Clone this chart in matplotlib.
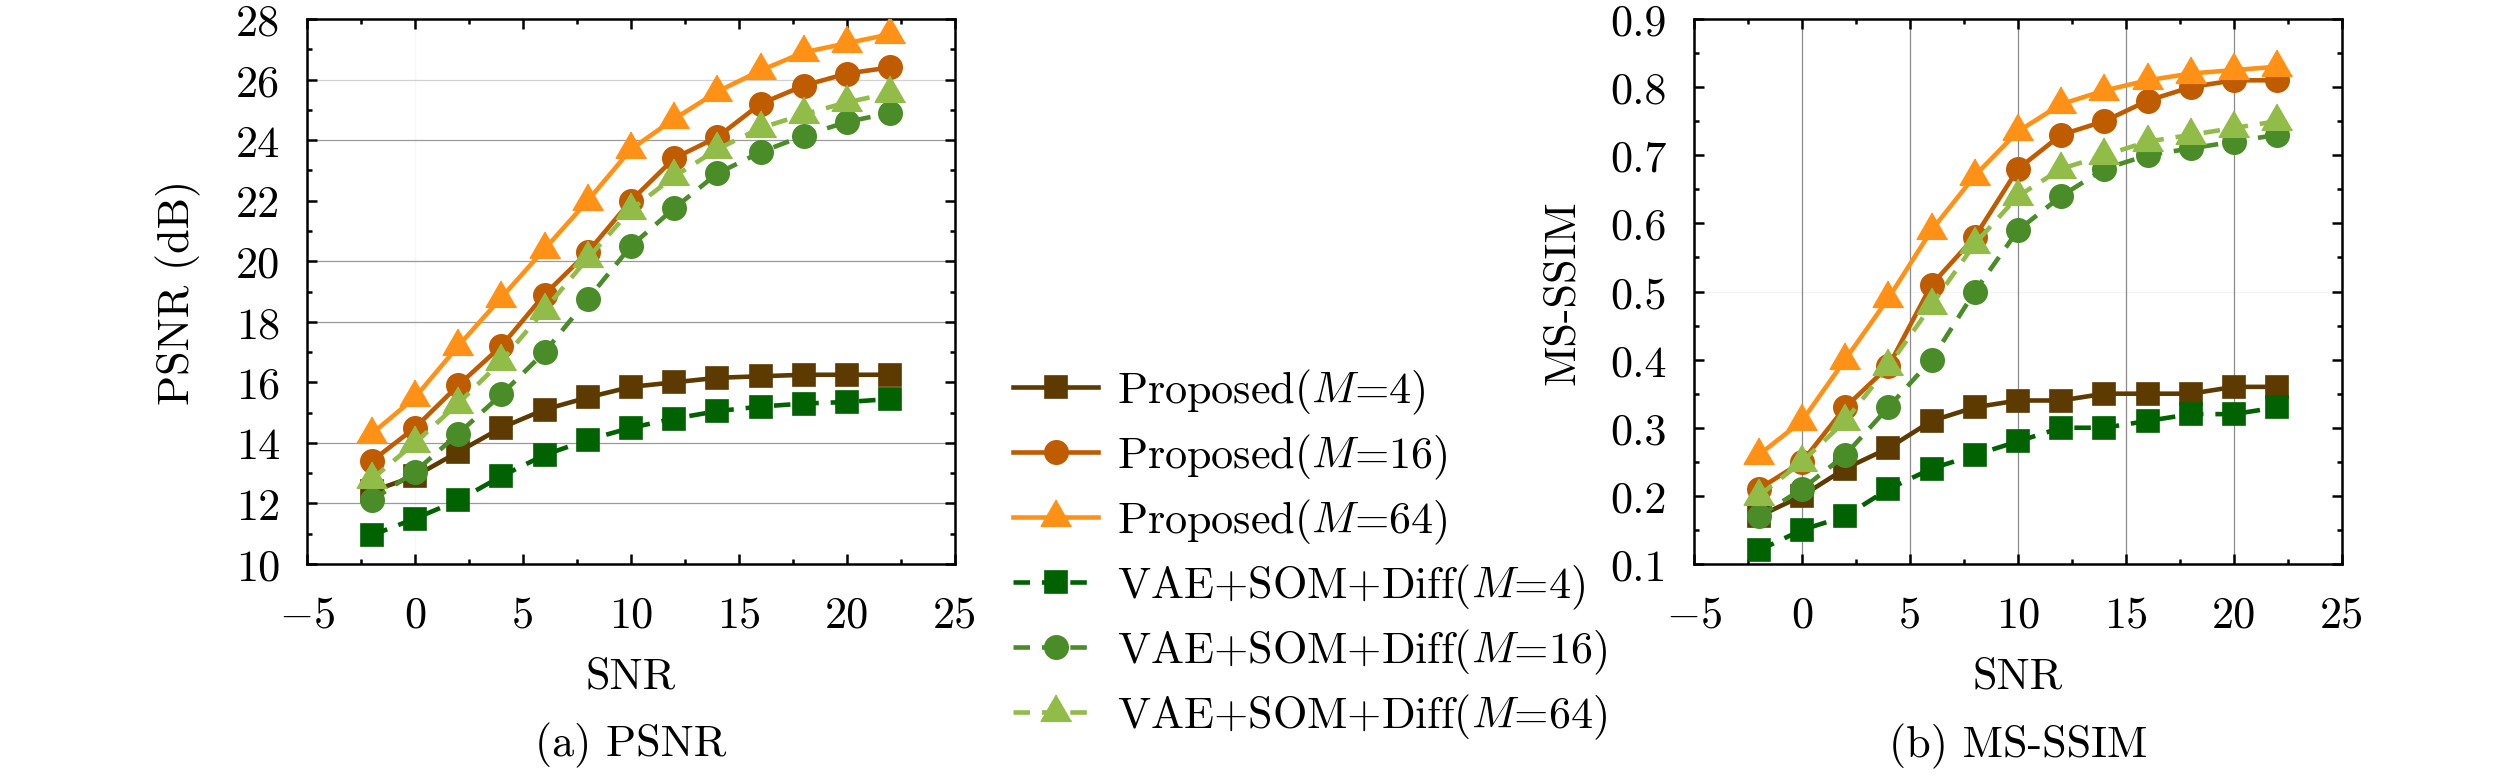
import matplotlib
matplotlib.use("Agg")
import matplotlib.pyplot as plt
from matplotlib.ticker import MultipleLocator, FuncFormatter

# ---------------- data ----------------
snr = [-2, 0, 2, 4, 6, 8, 10, 12, 14, 16, 18, 20, 22]

psnr_prop_m4 = [12.4, 12.9, 13.7, 14.5, 15.1, 15.5, 15.85, 16.0, 16.15, 16.2, 16.25, 16.25, 16.25]
psnr_prop_m16 = [13.4, 14.5, 15.9, 17.2, 18.9, 20.3, 22.0, 23.4, 24.1, 25.2, 25.8, 26.2, 26.4]
psnr_prop_m64 = [14.3, 15.5, 17.2, 18.8, 20.4, 22.0, 23.7, 24.7, 25.6, 26.3, 26.9, 27.2, 27.5]
psnr_vae_m4 = [10.95, 11.5, 12.1, 12.9, 13.6, 14.1, 14.5, 14.8, 15.05, 15.2, 15.3, 15.35, 15.45]
psnr_vae_m16 = [12.1, 13.05, 14.3, 15.6, 17.0, 18.75, 20.5, 21.75, 22.9, 23.6, 24.15, 24.6, 24.9]
psnr_vae_m64 = [12.8, 14.0, 15.3, 16.7, 18.4, 20.1, 21.7, 22.8, 23.7, 24.4, 24.85, 25.25, 25.55]

ssim_prop_m4 = [0.17, 0.20, 0.24, 0.27, 0.31, 0.33, 0.34, 0.34, 0.35, 0.35, 0.35, 0.36, 0.36]
ssim_prop_m16 = [0.21, 0.25, 0.33, 0.39, 0.51, 0.58, 0.68, 0.73, 0.75, 0.78, 0.80, 0.81, 0.81]
ssim_prop_m64 = [0.26, 0.31, 0.40, 0.49, 0.59, 0.67, 0.735, 0.775, 0.795, 0.81, 0.82, 0.825, 0.83]
ssim_vae_m4 = [0.12, 0.15, 0.17, 0.21, 0.24, 0.26, 0.28, 0.30, 0.30, 0.31, 0.32, 0.32, 0.33]
ssim_vae_m16 = [0.17, 0.21, 0.26, 0.33, 0.40, 0.50, 0.59, 0.64, 0.68, 0.70, 0.71, 0.72, 0.73]
ssim_vae_m64 = [0.20, 0.25, 0.31, 0.39, 0.48, 0.57, 0.64, 0.68, 0.70, 0.72, 0.73, 0.74, 0.75]

labels = [
    r"Proposed($M$=4)",
    r"Proposed($M$=16)",
    r"Proposed($M$=64)",
    r"VAE+SOM+Diff($M$=4)",
    r"VAE+SOM+Diff($M$=16)",
    r"VAE+SOM+Diff($M$=64)",
]

x_ticks = [-5, 0, 5, 10, 15, 20, 25]
psnr_ticks = [10, 12, 14, 16, 18, 20, 22, 24, 26, 28]
ssim_ticks = [0.1, 0.2, 0.3, 0.4, 0.5, 0.6, 0.7, 0.8, 0.9]

# ---------------- style ----------------
FS = 10.6
plt.rcParams.update({
    "font.family": "serif",
    "font.serif": ["cmr10"],
    "mathtext.fontset": "cm",
    "axes.unicode_minus": False,
    "font.size": FS,
    "axes.linewidth": 0.6,
})

colors = ["#5C3A00", "#BF5C00", "#FF9216", "#006200", "#4A8C28", "#91BC48"]
tri = [(0, 1), (-0.866, -0.5), (0.866, -0.5)]
markers = ["s", "o", tri, "s", "o", tri]
msizes = [5.2, 5.6, 8.4, 5.2, 5.6, 8.4]
styles = ["-", "-", "-", "--", "--", "--"]

W, H = 2520, 776
DPI = 300
fig = plt.figure(figsize=(W / DPI, H / DPI), dpi=DPI)

ax_l = (307, 20, 955, 565)
ax_r = (1694, 20, 2342, 565)


def make_ax(box):
    x0, y0, x1, y1 = box
    return fig.add_axes([x0 / W, 1 - y1 / H, (x1 - x0) / W, (y1 - y0) / H])


def fmt(v, pos):
    s = f"{abs(v):g}"
    return (r"$-$" + s) if v < -1e-9 else s


def style_axes(ax, ymaj, ymin):
    ax.xaxis.set_major_locator(MultipleLocator(5))
    ax.xaxis.set_minor_locator(MultipleLocator(2.5))
    ax.yaxis.set_major_locator(MultipleLocator(ymaj))
    ax.yaxis.set_minor_locator(MultipleLocator(ymin))
    ax.xaxis.set_major_formatter(FuncFormatter(fmt))
    ax.yaxis.set_major_formatter(FuncFormatter(fmt))
    ax.tick_params(which="both", direction="in", top=True, right=True,
                   width=0.6, color="black")
    ax.tick_params(which="major", length=2.3)
    ax.tick_params(axis="y", which="major", pad=6.5)
    ax.tick_params(axis="x", which="major", pad=7.5)
    ax.tick_params(which="minor", length=1.3)


series_l = [psnr_prop_m4, psnr_prop_m16, psnr_prop_m64,
            psnr_vae_m4, psnr_vae_m16, psnr_vae_m64]
series_r = [ssim_prop_m4, ssim_prop_m16, ssim_prop_m64,
            ssim_vae_m4, ssim_vae_m16, ssim_vae_m64]


def draw(ax, series):
    handles = []
    for i, ys in enumerate(series):
        kw = {}
        if styles[i] == "--":
            kw["dashes"] = (3.6, 2.6)
        h, = ax.plot(snr, ys, linestyle=styles[i], color=colors[i], lw=1.1,
                     marker=markers[i], markersize=msizes[i],
                     markerfacecolor=colors[i], markeredgecolor=colors[i],
                     markeredgewidth=0.4, label=labels[i], zorder=3 + i, **kw)
        handles.append(h)
    return handles


# ---- left: PSNR ----
axl = make_ax(ax_l)
handles = draw(axl, series_l)
axl.set_xlim(-5, 25)
axl.set_ylim(10, 28)
style_axes(axl, 2, 1)
axl.set_xticks(x_ticks)
axl.set_yticks(psnr_ticks)
axl.yaxis.grid(True, which="major", lw=0.3, color="#9a9a9a", zorder=0)
grid_alpha_l = {10: 0, 12: 1, 14: 1, 16: 0, 18: 1, 20: 1, 22: 0, 24: 1, 26: 0.45, 28: 0}
for t, gl in zip(axl.get_yticks(), axl.get_ygridlines()):
    gl.set_alpha(grid_alpha_l.get(int(round(t)), 1))
axl.xaxis.grid(True, which="major", lw=0.3, color="#9a9a9a", zorder=0)
for t, gl in zip(axl.get_xticks(), axl.get_xgridlines()):
    gl.set_alpha(0.08 if abs(t) < 1e-9 else 0)
axl.set_xlabel("SNR", va="center")
axl.xaxis.set_label_coords(0.5, (565 - 677) / 545)
axl.set_ylabel("PSNR (dB)", va="center")
axl.yaxis.set_label_coords((178 - 307) / 648, 0.5)

# ---- right: MS-SSIM ----
axr = make_ax(ax_r)
draw(axr, series_r)
axr.set_xlim(-5, 25)
axr.set_ylim(0.1, 0.9)
style_axes(axr, 0.1, 0.05)
axr.set_xticks(x_ticks)
axr.set_yticks(ssim_ticks)
axr.xaxis.grid(True, which="major", lw=0.3, color="#8a8a8a", zorder=0)
for t, gl in zip(axr.get_xticks(), axr.get_xgridlines()):
    if t in (-5, 25):
        gl.set_alpha(0)
axr.yaxis.grid(True, which="major", lw=0.3, color="#9a9a9a", zorder=0)
for t, gl in zip(axr.get_yticks(), axr.get_ygridlines()):
    gl.set_alpha(0.1 if abs(t - 0.5) < 1e-6 else 0)
axr.set_xlabel("SNR", va="center")
axr.xaxis.set_label_coords(0.5, (565 - 677) / 545)
axr.set_ylabel("MS-SSIM", va="center")
axr.yaxis.set_label_coords((1563 - 1694) / 648, 0.5)

# ---- captions ----
fig.text(((ax_l[0] + ax_l[2]) / 2) / W, 1 - 745 / H, "(a) PSNR", ha="center", va="center")
fig.text(((ax_r[0] + ax_r[2]) / 2) / W, 1 - 746 / H, "(b) MS-SSIM", ha="center", va="center")

# ---- legend (row pitch tuned to the reference: ~65 px) ----
TARGET_PITCH = 65.0
em_px = FS * DPI / 72.0


def make_legend(spacing):
    return fig.legend(handles, labels, loc="center left",
                      bbox_to_anchor=(1013 / W, 1 - 555 / H), frameon=False,
                      borderpad=0, borderaxespad=0, handlelength=1.93,
                      handletextpad=0.42, labelspacing=spacing, fontsize=FS)


spacing = 0.4
leg = make_legend(spacing)
for _ in range(3):
    fig.canvas.draw()
    r = fig.canvas.get_renderer()
    ys = [t.get_window_extent(r) for t in leg.get_texts()]
    cy = [(b.y0 + b.y1) / 2 for b in ys]
    pitch = (cy[0] - cy[-1]) / (len(cy) - 1)
    spacing += (TARGET_PITCH - pitch) / em_px
    leg.remove()
    leg = make_legend(spacing)

fig.savefig("out.png", dpi=DPI)
